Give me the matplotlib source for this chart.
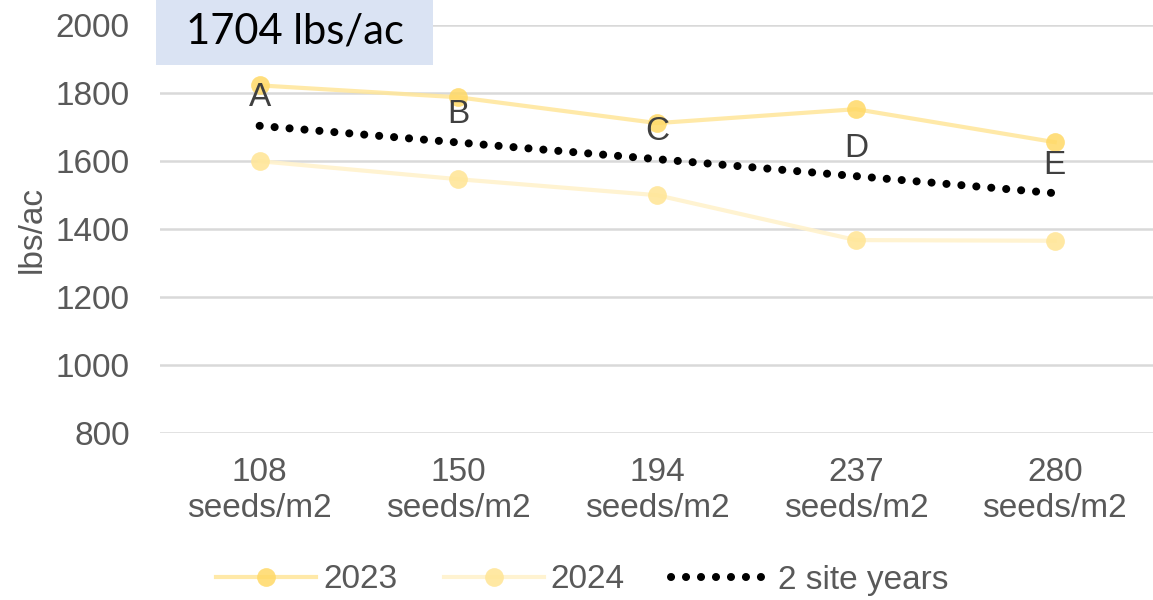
import numpy as np
import matplotlib.pyplot as plt
from matplotlib.patches import Rectangle

plt.rcParams['font.family'] = ['Liberation Sans', 'DejaVu Sans']

# seeding rates and yields
rates = ['108', '150', '194', '237', '280']
yield_2023 = [1823, 1788, 1712, 1753, 1656]
yield_2024 = [1600, 1547, 1500, 1368, 1366]
yield_avg = [1704, 1655, 1606, 1556, 1506]
letters = ['A', 'B', 'C', 'D', 'E']
headline = '1704 lbs/ac'

grey = '#595959'
x = np.arange(len(rates))

fig = plt.figure(figsize=(11.53, 6), dpi=100)
ax = fig.add_axes([0.139, 0.278, 0.862, 0.68])

ax.plot(x, yield_2023, color='#FFE699', lw=3, marker='o', ms=13.5,
        mfc='#FFD966', mec='none', alpha=0.85, label='2023', zorder=3)
ax.plot(x, yield_2024, color='#FFF2CC', lw=3, marker='o', ms=13.5,
        mfc='#FFE699', mec='none', alpha=0.9, label='2024', zorder=3)
ax.plot(x, yield_avg, color='black', lw=5.8, linestyle=(0, (0.01, 1.85)),
        dash_capstyle='round', label='2 site years', zorder=4)

for xi, yi, lt in zip(x, yield_avg, letters):
    ax.annotate(lt, (xi, yi), xytext=(0, 9), textcoords='offset points',
                ha='center', va='bottom', fontsize=24, color='#404040', zorder=5)

ax.set_xlim(-0.5, len(rates) - 0.5)
ax.set_ylim(800, 2000)
ax.set_yticks(range(800, 2001, 200))
ax.set_xticks(x)
ax.set_xticklabels([r + '\nseeds/m2' for r in rates], linespacing=1.2)
ax.tick_params(axis='both', length=0, labelsize=24, labelcolor=grey)
ax.tick_params(axis='y', pad=22)
ax.tick_params(axis='x', pad=17)
for s in ax.spines.values():
    s.set_visible(False)
ax.grid(axis='y', color='#D9D9D9', lw=1.8)
ax.set_axisbelow(True)
ax.set_ylabel('lbs/ac', fontsize=24, color=grey, labelpad=6)

# headline box in the top-left corner
fig.patches.append(Rectangle((156 / 1153, 1 - 65 / 600), 277 / 1153, 65 / 600,
                             transform=fig.transFigure, facecolor='#DAE3F3',
                             edgecolor='none', zorder=10))
fig.text(295 / 1153, 1 - 31 / 600, headline, ha='center', va='center',
         fontsize=30, family=['Lato', 'DejaVu Sans'], color='black', zorder=11)

fig.legend(loc='center', bbox_to_anchor=(0.505, 1 - 580 / 600), ncol=3,
           frameon=False, fontsize=24, labelcolor=grey, handlelength=3.0,
           columnspacing=1.4, handletextpad=0.2)

fig.savefig('out.png', dpi=100)
